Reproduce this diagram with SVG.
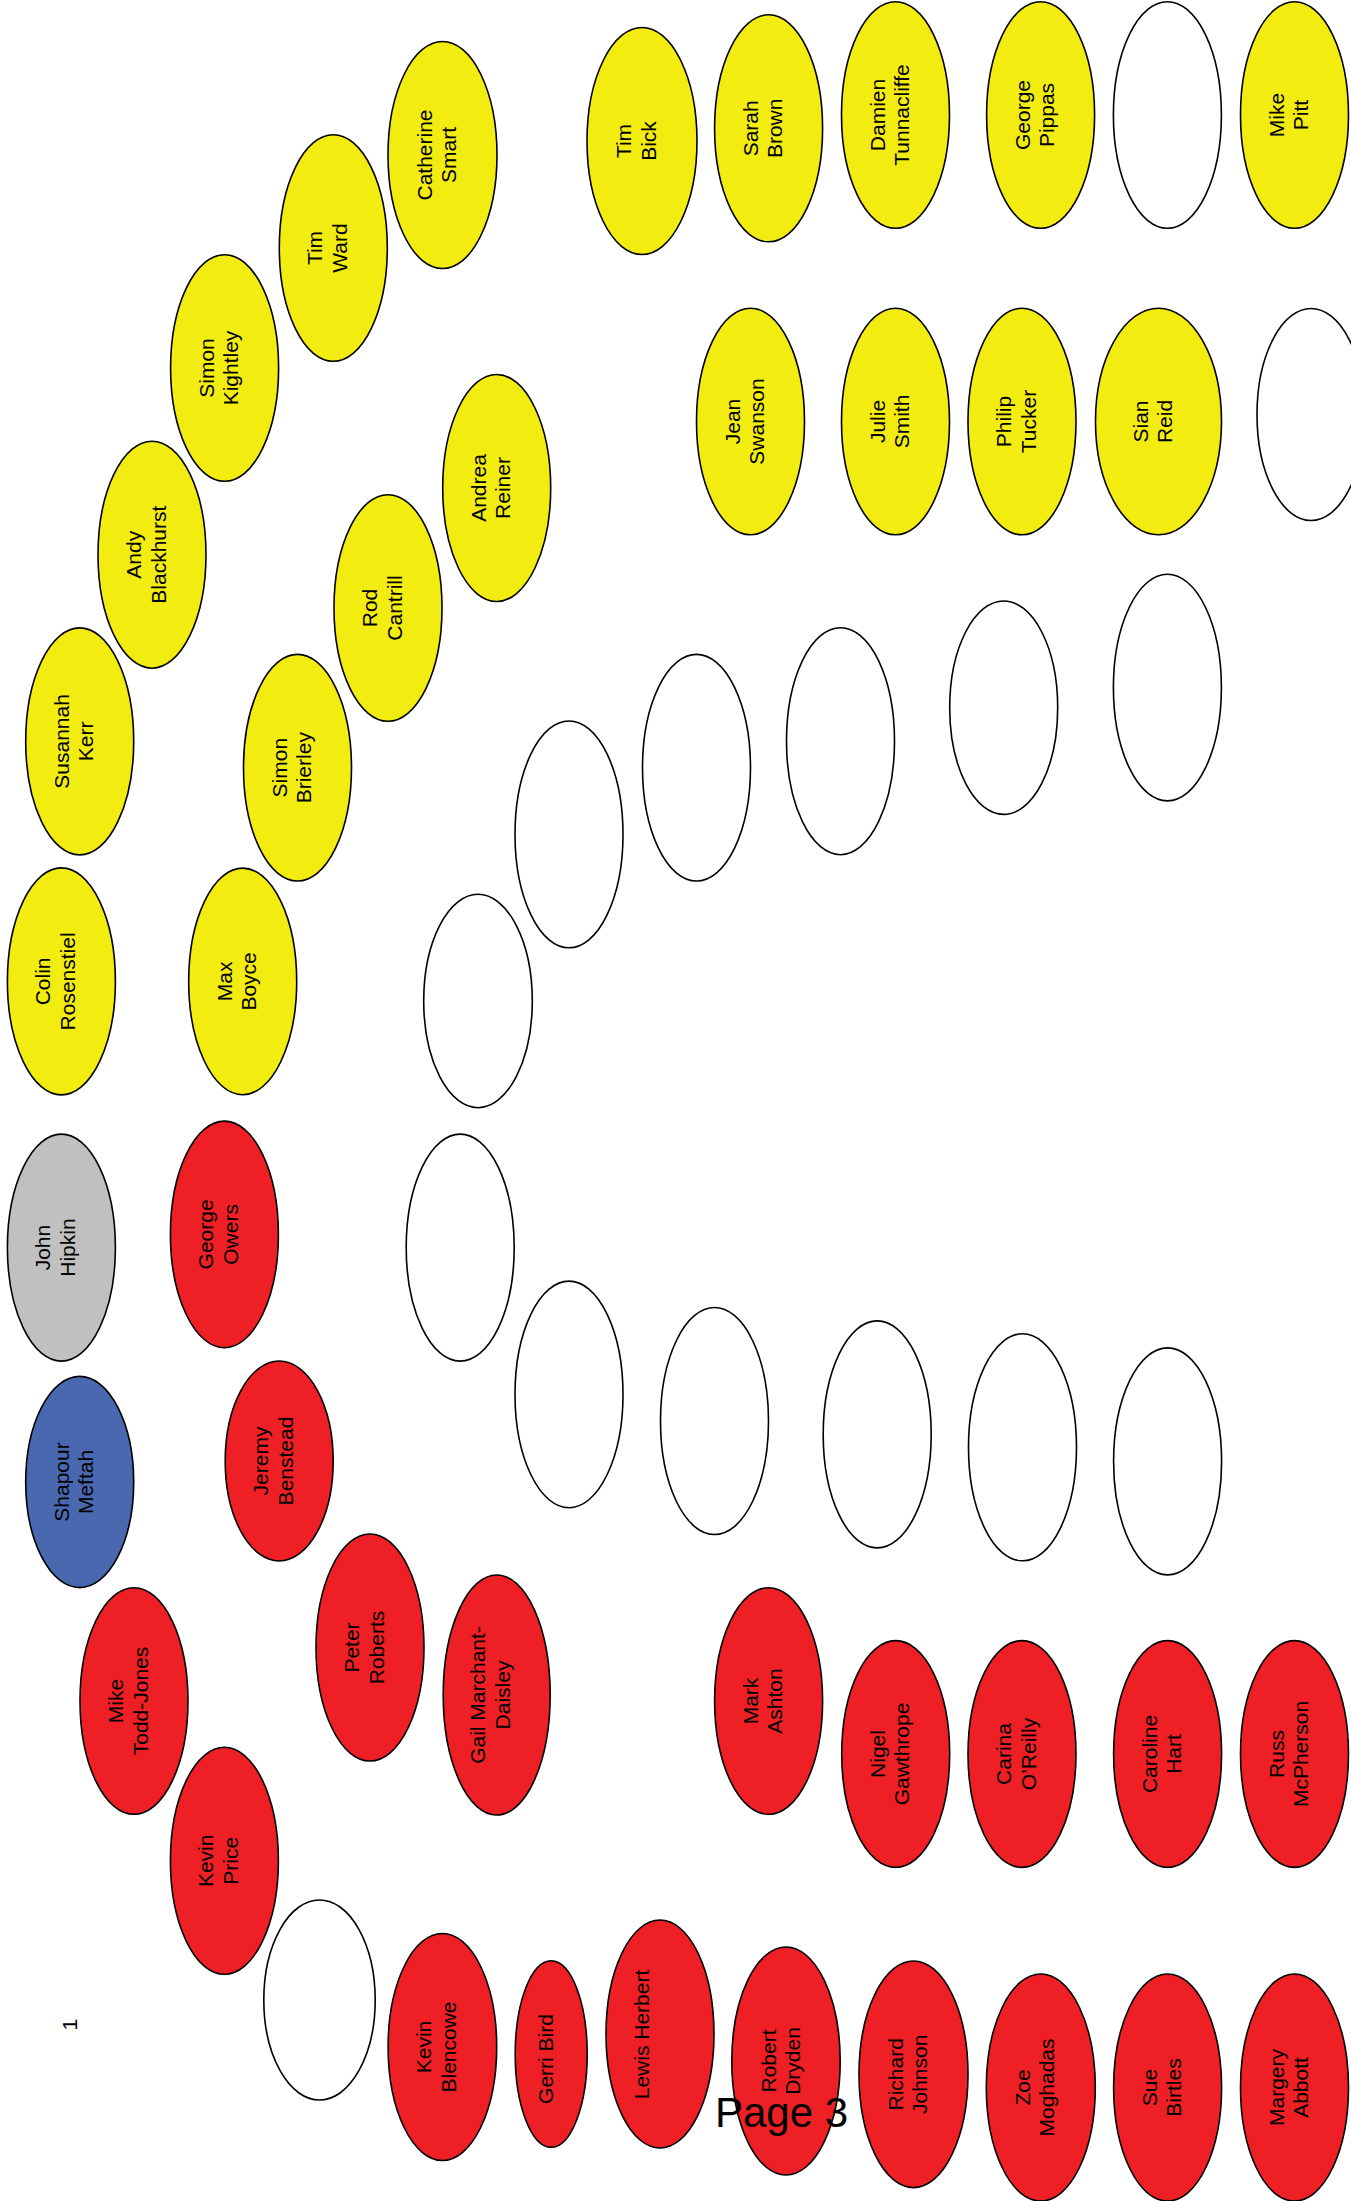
<svg xmlns="http://www.w3.org/2000/svg" width="1351" height="2201" viewBox="0 0 1351 2201">
<style>
ellipse{stroke:#000;stroke-width:1.6}
.y{fill:#F3EC11}
.r{fill:#EE2025}
.b{fill:#4968B0}
.g{fill:#C0C0C0}
.w{fill:#FFFFFF}
text{font-family:"Liberation Sans",Arial,sans-serif;font-size:21px;fill:#000;text-anchor:middle}
.pg{font-size:42px;text-anchor:start}
</style>
<rect width="1351" height="2201" fill="#FFFFFF"/>
<g id="connectors"/>
<g id="nodes">
<g id="catherine-smart"><ellipse class="y" cx="442.5" cy="155" rx="54.5" ry="113.5"/><text transform="translate(442.5 155) rotate(-90)"><tspan x="0" y="-11">Catherine</tspan><tspan x="0" y="13.5">Smart</tspan></text></g>
<g id="tim-ward"><ellipse class="y" cx="333.3" cy="248" rx="54" ry="113.3"/><text transform="translate(333.3 248) rotate(-90)"><tspan x="0" y="-11">Tim</tspan><tspan x="0" y="13.5">Ward</tspan></text></g>
<g id="simon-kightley"><ellipse class="y" cx="224.6" cy="368" rx="54" ry="113.3"/><text transform="translate(224.6 368) rotate(-90)"><tspan x="0" y="-11">Simon</tspan><tspan x="0" y="13.5">Kightley</tspan></text></g>
<g id="andy-blackhurst"><ellipse class="y" cx="152" cy="554.7" rx="54" ry="113.5"/><text transform="translate(152 554.7) rotate(-90)"><tspan x="0" y="-11">Andy</tspan><tspan x="0" y="13.5">Blackhurst</tspan></text></g>
<g id="susannah-kerr"><ellipse class="y" cx="79.7" cy="741.4" rx="54" ry="113.5"/><text transform="translate(79.7 741.4) rotate(-90)"><tspan x="0" y="-11">Susannah</tspan><tspan x="0" y="13.5">Kerr</tspan></text></g>
<g id="colin-rosenstiel"><ellipse class="y" cx="61.4" cy="981.4" rx="54" ry="113.5"/><text transform="translate(61.4 981.4) rotate(-90)"><tspan x="0" y="-11">Colin</tspan><tspan x="0" y="13.5">Rosenstiel</tspan></text></g>
<g id="tim-bick"><ellipse class="y" cx="642" cy="141" rx="55" ry="113.5"/><text transform="translate(642 141) rotate(-90)"><tspan x="0" y="-11">Tim</tspan><tspan x="0" y="13.5">Bick</tspan></text></g>
<g id="sarah-brown"><ellipse class="y" cx="768.6" cy="128.3" rx="54" ry="113.5"/><text transform="translate(768.6 128.3) rotate(-90)"><tspan x="0" y="-11">Sarah</tspan><tspan x="0" y="13.5">Brown</tspan></text></g>
<g id="damien-tunnacliffe"><ellipse class="y" cx="895.5" cy="115" rx="54" ry="113.3"/><text transform="translate(895.5 115) rotate(-90)"><tspan x="0" y="-11">Damien</tspan><tspan x="0" y="13.5">Tunnacliffe</tspan></text></g>
<g id="george-pippas"><ellipse class="y" cx="1040.6" cy="115" rx="54" ry="113.3"/><text transform="translate(1040.6 115) rotate(-90)"><tspan x="0" y="-11">George</tspan><tspan x="0" y="13.5">Pippas</tspan></text></g>
<g id="empty-1"><ellipse class="w" cx="1167.4" cy="115" rx="54" ry="113.3"/></g>
<g id="mike-pitt"><ellipse class="y" cx="1294.5" cy="115" rx="54" ry="113.3"/><text transform="translate(1294.5 115) rotate(-90)"><tspan x="0" y="-11">Mike</tspan><tspan x="0" y="13.5">Pitt</tspan></text></g>
<g id="jean-swanson"><ellipse class="y" cx="750.5" cy="421.5" rx="54" ry="113.3"/><text transform="translate(750.5 421.5) rotate(-90)"><tspan x="0" y="-11">Jean</tspan><tspan x="0" y="13.5">Swanson</tspan></text></g>
<g id="julie-smith"><ellipse class="y" cx="895.5" cy="421.5" rx="54" ry="113.3"/><text transform="translate(895.5 421.5) rotate(-90)"><tspan x="0" y="-11">Julie</tspan><tspan x="0" y="13.5">Smith</tspan></text></g>
<g id="philip-tucker"><ellipse class="y" cx="1022" cy="421.5" rx="54" ry="113.3"/><text transform="translate(1022 421.5) rotate(-90)"><tspan x="0" y="-11">Philip</tspan><tspan x="0" y="13.5">Tucker</tspan></text></g>
<g id="sian-reid"><ellipse class="y" cx="1158.5" cy="421.5" rx="63" ry="113.3"/><text transform="translate(1158.5 421.5) rotate(-90)"><tspan x="0" y="-11">Sian</tspan><tspan x="0" y="13.5">Reid</tspan></text></g>
<g id="empty-2"><ellipse class="w" cx="1311" cy="414.5" rx="54" ry="106"/></g>
<g id="andrea-reiner"><ellipse class="y" cx="496.7" cy="488" rx="54" ry="113.5"/><text transform="translate(496.7 488) rotate(-90)"><tspan x="0" y="-11">Andrea</tspan><tspan x="0" y="13.5">Reiner</tspan></text></g>
<g id="rod-cantrill"><ellipse class="y" cx="388" cy="608" rx="54" ry="113.3"/><text transform="translate(388 608) rotate(-90)"><tspan x="0" y="-11">Rod</tspan><tspan x="0" y="13.5">Cantrill</tspan></text></g>
<g id="simon-brierley"><ellipse class="y" cx="297.5" cy="767.7" rx="54" ry="113.3"/><text transform="translate(297.5 767.7) rotate(-90)"><tspan x="0" y="-11">Simon</tspan><tspan x="0" y="13.5">Brierley</tspan></text></g>
<g id="max-boyce"><ellipse class="y" cx="242.7" cy="981.4" rx="54" ry="113.3"/><text transform="translate(242.7 981.4) rotate(-90)"><tspan x="0" y="-11">Max</tspan><tspan x="0" y="13.5">Boyce</tspan></text></g>
<g id="empty-3"><ellipse class="w" cx="569" cy="834.4" rx="54" ry="113.4"/></g>
<g id="empty-4"><ellipse class="w" cx="478" cy="1001" rx="54.3" ry="106.7"/></g>
<g id="empty-5"><ellipse class="w" cx="696.5" cy="767.7" rx="54" ry="113.3"/></g>
<g id="empty-6"><ellipse class="w" cx="840.5" cy="741.2" rx="54" ry="113.5"/></g>
<g id="empty-7"><ellipse class="w" cx="1003.7" cy="707.7" rx="54" ry="106.7"/></g>
<g id="empty-8"><ellipse class="w" cx="1167.4" cy="687.6" rx="54" ry="113.3"/></g>
<g id="empty-9"><ellipse class="w" cx="460.2" cy="1247.6" rx="54" ry="113.5"/></g>
<g id="empty-10"><ellipse class="w" cx="569" cy="1394.4" rx="54" ry="113.3"/></g>
<g id="empty-11"><ellipse class="w" cx="714.5" cy="1421" rx="54" ry="113.5"/></g>
<g id="empty-12"><ellipse class="w" cx="877.2" cy="1434.4" rx="54" ry="113.5"/></g>
<g id="empty-13"><ellipse class="w" cx="1022.5" cy="1447.3" rx="54" ry="113.5"/></g>
<g id="empty-14"><ellipse class="w" cx="1167.6" cy="1461.4" rx="54" ry="113.5"/></g>
<g id="john-hipkin"><ellipse class="g" cx="61.4" cy="1247.6" rx="54" ry="113.5"/><text transform="translate(61.4 1247.6) rotate(-90)"><tspan x="0" y="-11">John</tspan><tspan x="0" y="13.5">Hipkin</tspan></text></g>
<g id="shapour-meftah"><ellipse class="b" cx="79.7" cy="1482" rx="54" ry="105.6"/><text transform="translate(79.7 1482) rotate(-90)"><tspan x="0" y="-11">Shapour</tspan><tspan x="0" y="13.5">Meftah</tspan></text></g>
<g id="george-owers"><ellipse class="r" cx="224.4" cy="1234.4" rx="54" ry="113.3"/><text transform="translate(224.4 1234.4) rotate(-90)"><tspan x="0" y="-11">George</tspan><tspan x="0" y="13.5">Owers</tspan></text></g>
<g id="jeremy-benstead"><ellipse class="r" cx="279.2" cy="1461" rx="54" ry="100"/><text transform="translate(279.2 1461) rotate(-90)"><tspan x="0" y="-11">Jeremy</tspan><tspan x="0" y="13.5">Benstead</tspan></text></g>
<g id="mike-todd-jones"><ellipse class="r" cx="134" cy="1701" rx="54" ry="113.3"/><text transform="translate(134 1701) rotate(-90)"><tspan x="0" y="-11">Mike</tspan><tspan x="0" y="13.5">Todd-Jones</tspan></text></g>
<g id="peter-roberts"><ellipse class="r" cx="370" cy="1647.5" rx="54" ry="113.5"/><text transform="translate(370 1647.5) rotate(-90)"><tspan x="0" y="-11">Peter</tspan><tspan x="0" y="13.5">Roberts</tspan></text></g>
<g id="gail-marchant-daisley"><ellipse class="r" cx="496.7" cy="1695" rx="53.5" ry="120"/><text transform="translate(496.7 1695) rotate(-90)"><tspan x="0" y="-11.5">Gail Marchant-</tspan><tspan x="0" y="13.3">Daisley</tspan></text></g>
<g id="kevin-price"><ellipse class="r" cx="224.4" cy="1860.8" rx="54" ry="113.5"/><text transform="translate(224.4 1860.8) rotate(-90)"><tspan x="0" y="-11">Kevin</tspan><tspan x="0" y="13.5">Price</tspan></text></g>
<g id="empty-15"><ellipse class="w" cx="319.5" cy="2000" rx="55.7" ry="100"/></g>
<g id="kevin-blencowe"><ellipse class="r" cx="442.4" cy="2047" rx="54.3" ry="113.5"/><text transform="translate(442.4 2047) rotate(-90)"><tspan x="0" y="-11">Kevin</tspan><tspan x="0" y="13.5">Blencowe</tspan></text></g>
<g id="gerri-bird"><ellipse class="r" cx="551.2" cy="2054" rx="36" ry="93.3"/><text transform="translate(551.2 2059) rotate(-90)" x="0" y="1.5">Gerri Bird</text></g>
<g id="lewis-herbert"><ellipse class="r" cx="660" cy="2034" rx="54" ry="114"/><text transform="translate(660 2034.5) rotate(-90)" x="0" y="-10.7">Lewis Herbert</text></g>
<g id="robert-dryden"><ellipse class="r" cx="786" cy="2061" rx="54.2" ry="114"/><text transform="translate(786 2061) rotate(-90)"><tspan x="0" y="-10">Robert</tspan><tspan x="0" y="14">Dryden</tspan></text></g>
<g id="richard-johnson"><ellipse class="r" cx="913.5" cy="2074.3" rx="54.5" ry="113.3"/><text transform="translate(913.5 2074.3) rotate(-90)"><tspan x="0" y="-11">Richard</tspan><tspan x="0" y="13.5">Johnson</tspan></text></g>
<g id="zoe-moghadas"><ellipse class="r" cx="1040.8" cy="2087.5" rx="54.5" ry="113.5"/><text transform="translate(1040.8 2087.5) rotate(-90)"><tspan x="0" y="-11">Zoe</tspan><tspan x="0" y="13.5">Moghadas</tspan></text></g>
<g id="sue-birtles"><ellipse class="r" cx="1167.6" cy="2087.5" rx="54" ry="113.5"/><text transform="translate(1167.6 2087.5) rotate(-90)"><tspan x="0" y="-11">Sue</tspan><tspan x="0" y="13.5">Birtles</tspan></text></g>
<g id="margery-abbott"><ellipse class="r" cx="1294.5" cy="2087.5" rx="54" ry="113.5"/><text transform="translate(1294.5 2087.5) rotate(-90)"><tspan x="0" y="-11">Margery</tspan><tspan x="0" y="13.5">Abbott</tspan></text></g>
<g id="mark-ashton"><ellipse class="r" cx="768.6" cy="1701" rx="54" ry="113.3"/><text transform="translate(768.6 1701) rotate(-90)"><tspan x="0" y="-11">Mark</tspan><tspan x="0" y="13.5">Ashton</tspan></text></g>
<g id="nigel-gawthrope"><ellipse class="r" cx="895.7" cy="1754" rx="54" ry="113.4"/><text transform="translate(895.7 1754) rotate(-90)"><tspan x="0" y="-11">Nigel</tspan><tspan x="0" y="13.5">Gawthrope</tspan></text></g>
<g id="carina-oreilly"><ellipse class="r" cx="1022" cy="1754" rx="54" ry="113.4"/><text transform="translate(1022 1754) rotate(-90)"><tspan x="0" y="-11">Carina</tspan><tspan x="0" y="13.5">O’Reilly</tspan></text></g>
<g id="caroline-hart"><ellipse class="r" cx="1167.6" cy="1754" rx="54" ry="113.4"/><text transform="translate(1167.6 1754) rotate(-90)"><tspan x="0" y="-11">Caroline</tspan><tspan x="0" y="13.5">Hart</tspan></text></g>
<g id="russ-mcpherson"><ellipse class="r" cx="1294.5" cy="1754" rx="54" ry="113.4"/><text transform="translate(1294.5 1754) rotate(-90)"><tspan x="0" y="-11">Russ</tspan><tspan x="0" y="13.5">McPherson</tspan></text></g>
</g>
<text transform="translate(77.3 2030.5) rotate(-90)" style="text-anchor:start">1</text>
<text class="pg" x="715" y="2127">Page 3</text>
</svg>
